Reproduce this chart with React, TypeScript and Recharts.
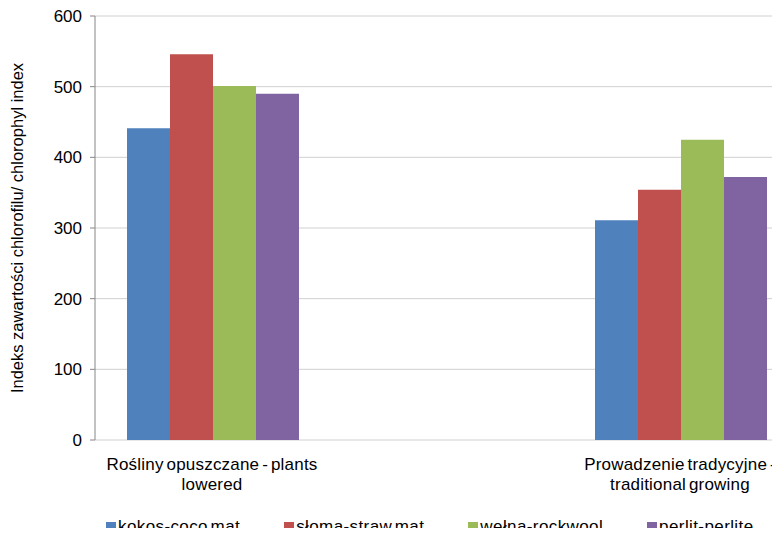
import React from 'react';
import { BarChart, Bar, XAxis, YAxis, CartesianGrid } from 'recharts';

const categories = ['Rośliny opuszczane - plants\nlowered', '', 'Prowadzenie tradycyjne -\ntraditional growing'];
const kokos = [441, null, 311];
const sloma = [546, null, 354];
const welna = [501, null, 425];
const perlit = [490, null, 372];
const seriesNames = ['kokos-coco mat', 'słoma-straw mat', 'wełna-rockwool', 'perlit-perlite'];
const seriesColors = ['#4F81BD', '#C0504D', '#9BBB59', '#8064A2'];
const yTicks = [0, 100, 200, 300, 400, 500, 600];
const edgeTicks = [0, 1, 2, 3];
const yLabel = 'Indeks zawartości chlorofilu/ chlorophyl index';

const FONT = '"Liberation Sans", Arial, sans-serif';
const AXIS = '#868686';

const seriesValues = [kokos, sloma, welna, perlit];
const data = categories.map((name, i) => {
  const row: Record<string, any> = { name };
  seriesValues.forEach((vals, s) => { row['s' + s] = vals[i]; });
  return row;
});

const CatTick = (props: any) => {
  const { x, y, payload } = props;
  const lines = String(payload.value).split('\n');
  return (
    <text x={x} y={y} textAnchor="middle" fontSize={17} letterSpacing={0.2} wordSpacing={-2} fill="#000" fontFamily={FONT}>
      {lines.map((l, i) => (
        <tspan key={i} x={x} dy={i === 0 ? 30 : 20}>{l}</tspan>
      ))}
    </text>
  );
};

export default function App() {
  return (
    <div style={{ position: 'relative', width: 780, height: 536, overflow: 'hidden', margin: -8, fontFamily: FONT, background: '#fff' }}>
      <BarChart
        width={800}
        height={536}
        data={data}
        margin={{ top: 16, right: 3, left: 0, bottom: 0 }}
        barGap={0}
        barCategoryGap={32}
      >
        <CartesianGrid xAxisId="cat" vertical={false} stroke="#d0d0d0" strokeWidth={1} />
        <XAxis
          xAxisId="edge"
          type="number"
          domain={[0, 3]}
          ticks={edgeTicks}
          tick={false}
          tickSize={5}
          height={0}
          axisLine={{ stroke: AXIS }}
          tickLine={{ stroke: AXIS }}
          allowDataOverflow
        />
        <XAxis
          xAxisId="cat"
          dataKey="name"
          axisLine={false}
          tickLine={false}
          tickSize={0}
          tickMargin={0}
          height={96}
          interval={0}
          tick={<CatTick />}
        />
        <YAxis
          width={95}
          domain={[0, 600]}
          ticks={yTicks}
          tickSize={5}
          tickMargin={8}
          axisLine={{ stroke: AXIS }}
          tickLine={{ stroke: AXIS }}
          tick={{ fill: '#000', fontSize: 17, fontFamily: FONT }}
          label={{ value: yLabel, angle: -90, position: 'center', dx: -30, style: { fontSize: 16.5, fill: '#000', fontFamily: FONT, textAnchor: 'middle' } }}
        />
        {seriesNames.map((n, s) => (
          <Bar key={n} xAxisId="cat" dataKey={'s' + s} name={n} fill={seriesColors[s]} isAnimationActive={false} />
        ))}
      </BarChart>
      <div style={{ position: 'absolute', left: 106, top: 518, height: 17, lineHeight: '17px', width: 680, display: 'flex', alignItems: 'center', whiteSpace: 'nowrap', fontSize: 17, letterSpacing: 0.4, wordSpacing: -2.5, color: '#000' }}>
        {seriesNames.map((n, s) => (
          <div key={n} style={{ display: 'flex', alignItems: 'center', marginRight: 44, flex: 'none' }}>
            <span style={{ width: 10, height: 10, background: seriesColors[s], marginRight: 2, display: 'inline-block' }} />
            <span>{n}</span>
          </div>
        ))}
      </div>
    </div>
  );
}
